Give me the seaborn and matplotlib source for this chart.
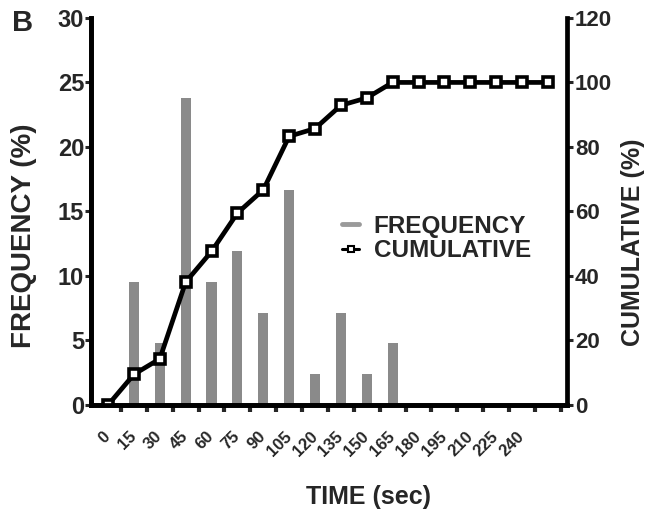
import pandas as pd
import seaborn as sns
import matplotlib.pyplot as plt
import matplotlib.transforms as mtransforms
import numpy as np
from matplotlib.lines import Line2D

# Time bins (sec) and values
time_bins = [0, 15, 30, 45, 60, 75, 90, 105, 120, 135, 150, 165, 180, 195, 210, 225, 240, 255]
tick_labels = ["0", "15", "30", "45", "60", "75", "90", "105", "120", "135", "150", "165",
               "180", "195", "210", "225", "240", ""]
frequency = [0, 9.5, 4.8, 23.8, 9.5, 11.9, 7.1, 16.7, 2.4, 7.1, 2.4, 4.8, 0, 0, 0, 0, 0, 0]
cumulative = [0, 9.5, 14.3, 38.1, 47.6, 59.5, 66.7, 83.3, 85.7, 92.9, 95.2, 100, 100, 100, 100, 100, 100, 100]

df = pd.DataFrame({"time": time_bins, "freq": frequency, "cum": cumulative})
df["pos"] = np.arange(len(df))

sns.set_style("white")
plt.rcParams["font.family"] = ["Liberation Sans", "DejaVu Sans"]
plt.rcParams["font.weight"] = "bold"

fig = plt.figure(figsize=(6.47, 5.12), dpi=100)
ax = fig.add_axes([0.1406, 0.209, 0.876 - 0.1406, 0.965 - 0.209])

# Frequency bars
sns.barplot(data=df, x="pos", y="freq", color="#8a8a8a", width=0.39,
            saturation=1, ax=ax, linewidth=0)

# Cumulative line on second axis
ax2 = ax.twinx()
sns.lineplot(data=df, x="pos", y="cum", ax=ax2, color="black", linewidth=3.4,
             marker="s", markersize=7.5, markerfacecolor="white",
             markeredgecolor="black", markeredgewidth=2.6)

ax.set_xlim(-0.66, 17.73)
ax.set_ylim(0, 30)
ax2.set_ylim(0, 120)

ax.set_yticks(range(0, 31, 5))
ax2.set_yticks(range(0, 121, 20))
ax.set_xticks(df["pos"])
ax.set_xticklabels(tick_labels, rotation=45, ha="right", va="center",
                   rotation_mode="anchor", fontsize=12, fontweight="bold")
shift = mtransforms.ScaledTranslation(-0.08, 0, fig.dpi_scale_trans)
for lab in ax.get_xticklabels():
    lab.set_transform(lab.get_transform() + shift)
ax.set_xticks(np.arange(0.5, 18, 1), minor=True)
ax.tick_params(axis="x", which="major", length=0, pad=21)
ax.tick_params(axis="x", which="minor", length=5, width=3, direction="out", bottom=True)
ax.tick_params(axis="y", length=4, width=2.2, labelsize=17, pad=1, left=True)
ax2.tick_params(axis="y", length=4, width=2.2, labelsize=16, pad=2, right=True)

for a in (ax, ax2):
    for s in a.spines.values():
        s.set_linewidth(3.4)
        s.set_color("black")
    a.spines["top"].set_visible(False)
ax.spines["right"].set_visible(False)

ax.set_xlabel("")
ax.set_ylabel("")
ax2.set_ylabel("")
fig.text(368 / 647, 1 - 497 / 512, "TIME (sec)", fontsize=18, fontweight="bold",
         ha="center", va="center")
fig.text(24 / 647, 1 - 236 / 512, "FREQUENCY (%)", fontsize=20, fontweight="bold",
         rotation=90, ha="center", va="center")
fig.text(633 / 647, 1 - 242 / 512, "CUMULATIVE (%)", fontsize=18, fontweight="bold",
         rotation=90, ha="center", va="center")

for lab in ax.get_yticklabels() + ax2.get_yticklabels():
    lab.set_fontweight("bold")

handles = [Line2D([], [], color="#9a9a9a", linewidth=3.5),
           Line2D([], [], color="black", linewidth=2.2, marker="s", markersize=4,
                  markerfacecolor="white", markeredgecolor="black", markeredgewidth=1.5)]
fig.legend(handles, ["FREQUENCY", "CUMULATIVE"], loc="upper left",
           bbox_to_anchor=(342 / 647, 1 - 215 / 512), bbox_transform=fig.transFigure,
           frameon=False, borderpad=0, borderaxespad=0,
           handlelength=0.7, handletextpad=0.6, labelspacing=0.05,
           prop={"weight": "bold", "size": 17.5})

fig.text(12 / 647, 1 - 31 / 512, "B", fontsize=21, fontweight="bold", va="baseline")

plt.savefig("out.png")
